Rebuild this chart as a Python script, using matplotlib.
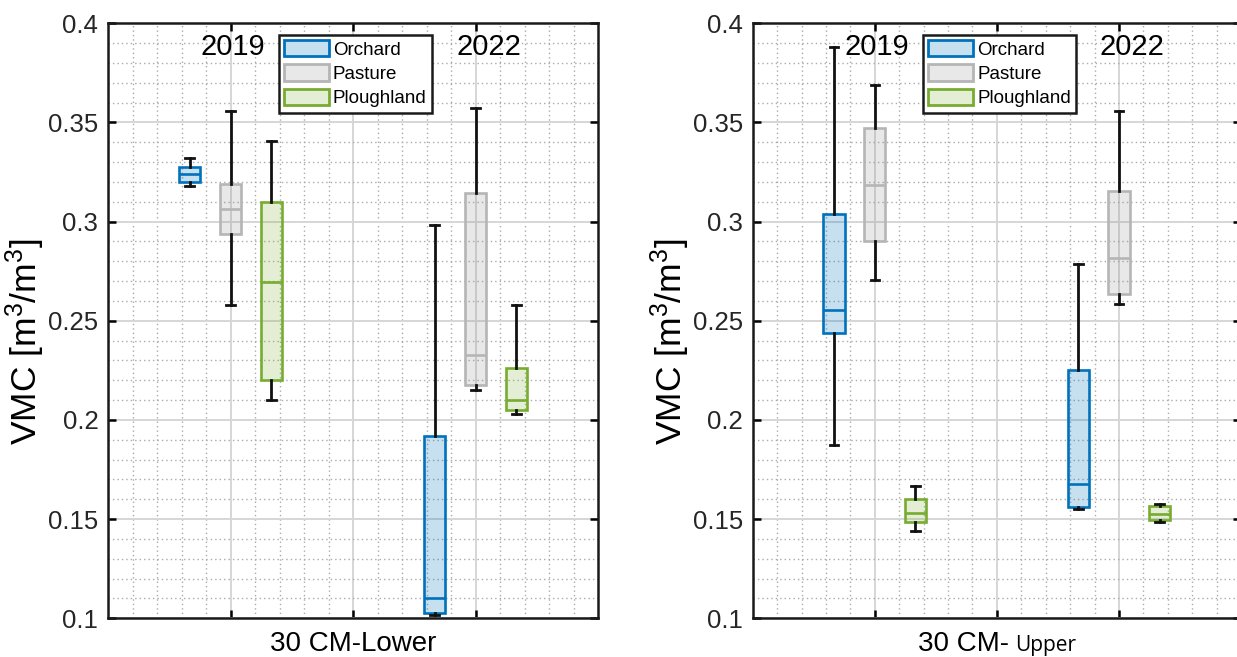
import numpy as np
import matplotlib.pyplot as plt
from matplotlib.patches import Patch

plt.rcParams['font.family'] = ['Liberation Sans', 'DejaVu Sans']
plt.rcParams['mathtext.fontset'] = 'custom'
plt.rcParams['mathtext.rm'] = 'Liberation Sans'
plt.rcParams['mathtext.it'] = 'Liberation Sans:italic'

# order of boxes: 2019 Orchard, Pasture, Ploughland, then the same for 2022
LANDUSE = ['Orchard', 'Pasture', 'Ploughland']
YEARS = ['2019', '2022']

lower_whislo = [0.3178, 0.2578, 0.2099, 0.1016, 0.2153, 0.2032]
lower_q1     = [0.3200, 0.2936, 0.2200, 0.1025, 0.2175, 0.2052]
lower_med    = [0.3238, 0.3064, 0.2695, 0.1104, 0.2329, 0.2102]
lower_q3     = [0.3275, 0.3192, 0.3099, 0.1917, 0.3146, 0.2264]
lower_whishi = [0.3320, 0.3558, 0.3406, 0.2985, 0.3573, 0.2581]

upper_whislo = [0.1875, 0.2707, 0.1440, 0.1550, 0.2583, 0.1484]
upper_q1     = [0.2440, 0.2902, 0.1487, 0.1560, 0.2637, 0.1494]
upper_med    = [0.2553, 0.3183, 0.1530, 0.1679, 0.2816, 0.1526]
upper_q3     = [0.3040, 0.3474, 0.1600, 0.2250, 0.3154, 0.1566]
upper_whishi = [0.3880, 0.3690, 0.1669, 0.2788, 0.3556, 0.1578]

EDGE = ['#0072bd', '#b5b5b5', '#77ac30']
FILL = [(0.0, 0.447, 0.741, 0.22), (0.55, 0.55, 0.55, 0.2), (0.466, 0.674, 0.188, 0.2)]


def drawPanel(ax, lo, q1, med, q3, hi):
    stats, pos = [], []
    for i in range(len(med)):
        stats.append(dict(whislo=lo[i], q1=q1[i], med=med[i], q3=q3[i], whishi=hi[i], fliers=[]))
        pos.append(1 + 2*(i//3) + (i % 3 - 1)/3)
    res = ax.bxp(stats, positions=pos, widths=0.175, capwidths=0.07, patch_artist=True,
                 showfliers=False, manage_ticks=False, zorder=3,
                 whiskerprops=dict(color='#111111', lw=2.0),
                 capprops=dict(color='#111111', lw=2.0),
                 boxprops=dict(lw=1.9), medianprops=dict(lw=1.9))
    for i, b in enumerate(res['boxes']):
        b.set_facecolor(FILL[i % 3])
        b.set_edgecolor(EDGE[i % 3])
        res['medians'][i].set_color(EDGE[i % 3])

    ax.set_xlim(0, 4)
    ax.set_ylim(0.1, 0.4)
    ax.set_xticks([1, 2, 3])
    ax.set_xticklabels([])
    ax.set_xticks(np.arange(0, 4.01, 0.2), minor=True)
    ax.set_yticks(np.arange(0.1, 0.401, 0.05))
    ax.set_yticklabels(['0.1', '0.15', '0.2', '0.25', '0.3', '0.35', '0.4'])
    ax.set_yticks(np.arange(0.1, 0.401, 0.01), minor=True)
    ax.set_axisbelow(True)
    ax.grid(which='major', color='#d6d6d6', lw=1.4)
    ax.grid(which='minor', color='#aaaaaa', ls=(0, (1, 2.2)), lw=1.0)
    ax.tick_params(which='major', direction='in', length=6, width=1.8,
                   top=True, right=True, labelsize=18.5, labelcolor='#262626', pad=7)
    ax.tick_params(which='minor', length=0)
    for s in ax.spines.values():
        s.set_linewidth(1.8)
        s.set_color('#1a1a1a')

    for g, yr in enumerate(YEARS):
        ax.text(1.02 + 2*g + (0.09 if g else 0), 0.384, yr, ha='center', va='baseline', fontsize=21)

    handles = [Patch(facecolor=FILL[k], edgecolor=EDGE[k], lw=2, label=LANDUSE[k]) for k in range(3)]
    leg = ax.legend(handles=handles, loc='upper left', bbox_to_anchor=(0.348, 0.981),
                    fontsize=13.5, fancybox=False, framealpha=1, edgecolor='#1a1a1a',
                    handlelength=2.4, handleheight=0.95, handletextpad=0.2,
                    labelspacing=0.3, borderpad=0.3, borderaxespad=0)
    leg.get_frame().set_linewidth(1.8)
    ax.set_ylabel(r'VMC [m$^3$/m$^3$]', fontsize=25.5)
    ax.yaxis.set_label_coords(-0.125, 0.465)


fig = plt.figure(figsize=(12.37, 6.57), dpi=100)
W, H = 1237.0, 657.0
axL = fig.add_axes([108/W, 1 - 618.3/H, 490/W, 595/H])
axR = fig.add_axes([752.7/W, 1 - 618.3/H, 488.3/W, 595/H])

drawPanel(axL, lower_whislo, lower_q1, lower_med, lower_q3, lower_whishi)
drawPanel(axR, upper_whislo, upper_q1, upper_med, upper_q3, upper_whishi)

axL.set_xlabel('30 CM-Lower', fontsize=20, va='baseline')
axL.xaxis.set_label_coords(0.5, -0.0555)

axR.text(0.525, -0.0555, '30 CM-', transform=axR.transAxes, ha='right', va='baseline', fontsize=20)
axR.text(0.538, -0.0555, 'Upper', transform=axR.transAxes, ha='left', va='baseline',
         fontsize=15, family=['Open Sans', 'DejaVu Sans'])

fig.savefig('out.png', dpi=100)
